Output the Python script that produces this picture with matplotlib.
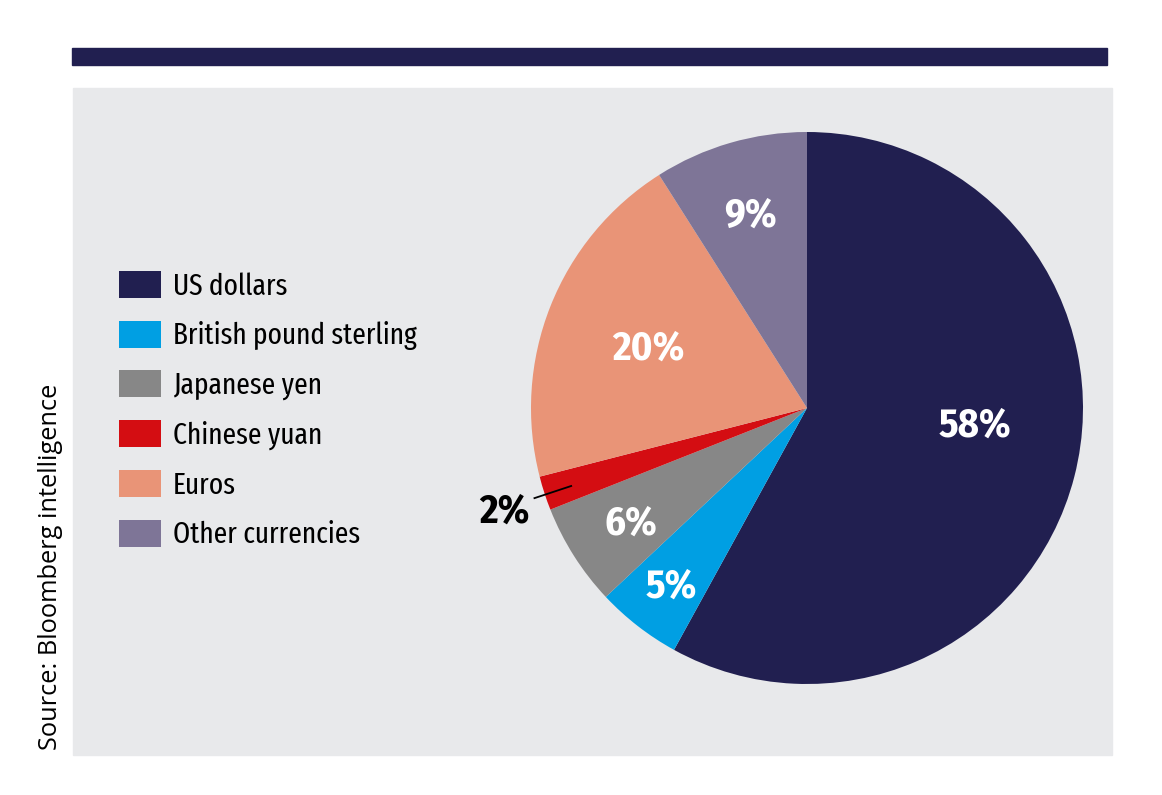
import matplotlib
matplotlib.use("Agg")
import matplotlib.pyplot as plt
from matplotlib.patches import Rectangle, Patch
import numpy as np

currencies = ["US dollars", "British pound sterling", "Japanese yen",
              "Chinese yuan", "Euros", "Other currencies"]
shares = [58, 5, 6, 2, 20, 9]
colors = ["#211f50", "#009fe3", "#878787", "#d40d12", "#e99477", "#7e7597"]
source = "Source: Bloomberg intelligence"

# label placement (radius as fraction of pie radius, angle nudge in degrees)
lab_r = [0.61, 0.80, 0.755, 1.156, 0.62, 0.74]
lab_shift = [9.6, 0, 0, 0.3, 0, 0]

W, H = 1162, 795
fig = plt.figure(figsize=(W / 100, H / 100), dpi=100)
fig.patch.set_facecolor("white")

def px(x0, y0, x1, y1):
    # pixel box (top-left origin) -> figure fraction
    return [x0 / W, 1 - y1 / H, (x1 - x0) / W, (y1 - y0) / H]

for box, col in [((72, 48, 1107, 65), "#211f50"), ((73, 88, 1112, 755), "#e8e9eb")]:
    l, b, w, h = px(*box)
    fig.patches.append(Rectangle((l, b), w, h, transform=fig.transFigure,
                                 color=col, zorder=-5))

legend_font = ["Fira Sans Extra Condensed", "DejaVu Sans"]
pct_font = ["Fira Sans Condensed", "DejaVu Sans"]

ax = fig.add_axes(px(531, 132, 1083, 684))
ax.set_zorder(2)
ax.patch.set_alpha(0)
wedges, _ = ax.pie(shares, colors=colors, startangle=90, counterclock=False,
                   radius=1.0, wedgeprops=dict(linewidth=0))
ax.set_xlim(-1, 1)
ax.set_ylim(-1, 1)
ax.set_aspect("equal")
ax.axis("off")

for i, w in enumerate(wedges):
    mid = np.deg2rad((w.theta1 + w.theta2) / 2 + lab_shift[i])
    r = lab_r[i]
    x, y = r * np.cos(mid), r * np.sin(mid)
    outside = r > 1
    ax.annotate(f"{shares[i]}%", xy=(x, y), xytext=(0, -3), textcoords="offset points",
                ha="center", va="center", family=pct_font, fontweight="bold",
                fontsize=29, color="black" if outside else "white",
                annotation_clip=False)
    if outside:
        # short leader line into the thin slice
        ax.plot([1.04 * np.cos(mid), 0.90 * np.cos(mid)],
                [1.04 * np.sin(mid), 0.90 * np.sin(mid)],
                color="black", lw=1.3, clip_on=False)

handles = [Patch(facecolor=c, edgecolor="none") for c in colors]
fig.legend(handles, currencies, loc="upper left",
           bbox_to_anchor=(119 / W, 1 - 271 / H), frameon=False,
           prop=dict(family=legend_font, size=21.5),
           handlelength=1.42, handleheight=1.02, handletextpad=0.38,
           labelspacing=0.665, borderpad=0, borderaxespad=0)

fig.text(51 / W, 1 - 567 / H, source, rotation=90, ha="center", va="center",
         family=["Open Sans", "DejaVu Sans"], fontsize=18.3, color="black")

fig.savefig("out.png", dpi=100, facecolor="white")
